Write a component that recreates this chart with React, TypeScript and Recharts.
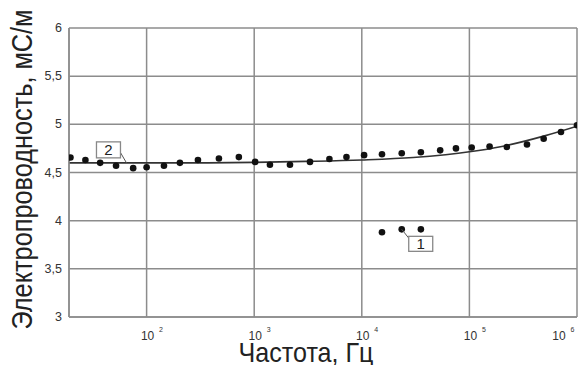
import {
  CartesianGrid,
  ComposedChart,
  Line,
  ReferenceDot,
  Scatter,
  XAxis,
  YAxis,
} from "recharts";

// measured points (curve 2)
const dotFreq = [
  19.6, 27, 37, 52, 75, 100, 145, 204, 300, 470, 720, 1020, 1400, 2150, 3300, 5000, 7200, 10500,
  15400, 23500, 35400, 53500, 75000, 105000, 154000, 223000, 343000, 490000, 710000, 1000000,
];
const dotValue = [
  4.655, 4.63, 4.6, 4.57, 4.545, 4.555, 4.57, 4.6, 4.63, 4.645, 4.66, 4.61, 4.58, 4.58, 4.61, 4.64,
  4.66, 4.68, 4.69, 4.7, 4.71, 4.73, 4.75, 4.76, 4.77, 4.765, 4.79, 4.85, 4.92, 4.99,
];

// measured points (curve 1)
const lowFreq = [15400, 23500, 35400];
const lowValue = [3.88, 3.91, 3.91];

// fitted curve
const fitFreq = [19, 50, 100, 300, 1000, 3000, 10000, 30000, 60000, 100000, 200000, 500000, 1000000];
const fitValue = [4.6, 4.6, 4.6, 4.6, 4.605, 4.615, 4.63, 4.655, 4.685, 4.715, 4.77, 4.88, 4.98];

const xTicks = [100, 1000, 10000, 100000, 1000000];
const yTicks = [3, 3.5, 4, 4.5, 5, 5.5, 6];

const dots = dotFreq.map((f, i) => ({ f, v: dotValue[i] }));
const lowDots = lowFreq.map((f, i) => ({ f, v: lowValue[i] }));
const fit = fitFreq.map((f, i) => ({ f, v: fitValue[i] }));

const FONT = "'Liberation Sans', Arial, sans-serif";
const GRID = "#8c8c8c";

const XTick = ({ x, y, payload }: any) => {
  const exp = Math.round(Math.log10(payload.value));
  return (
    <g fontFamily={FONT} fill="#333">
      <text x={x + 1} y={y + 15} textAnchor="middle" fontSize={12}>
        10
      </text>
      <text x={x + 12.5} y={y + 7} fontSize={7}>
        {exp}
      </text>
    </g>
  );
};

const YTick = ({ x, y, payload }: any) => (
  <text x={x} y={y + 4} textAnchor="end" fontSize={12.5} fontFamily={FONT} fill="#333">
    {String(payload.value).replace(".", ",")}
  </text>
);

const XTitle = ({ viewBox }: any) => (
  <text
    x={viewBox.x + viewBox.width / 2 - 17}
    y={viewBox.y + 45}
    textAnchor="middle"
    fontSize={28}
    textLength={135}
    lengthAdjust="spacingAndGlyphs"
    fontFamily={FONT}
    fill="#222"
  >
    Частота, Гц
  </text>
);

const YTitle = ({ viewBox }: any) => {
  const cx = 32;
  const cy = viewBox.y + viewBox.height / 2 - 3;
  return (
    <text
      x={cx}
      y={cy}
      transform={`rotate(-90 ${cx} ${cy})`}
      textAnchor="middle"
      fontSize={30}
      textLength={320}
      lengthAdjust="spacingAndGlyphs"
      fontFamily={FONT}
      fill="#222"
    >
      Электропроводность, мС/м
    </text>
  );
};

const Dot = ({ cx, cy }: any) => <circle cx={cx} cy={cy} r={3.3} fill="#111" />;

const Tag2 = ({ cx, cy }: any) => (
  <g fontFamily={FONT}>
    <line x1={cx} y1={cy} x2={cx - 7} y2={cy - 12} stroke="#555" strokeWidth={1} />
    <rect x={cx - 30} y={cy - 21} width={24} height={16} fill="#fff" stroke="#888" strokeWidth={1.3} />
    <text x={cx - 18} y={cy - 8} textAnchor="middle" fontSize={15} fill="#222">
      2
    </text>
  </g>
);

const Tag1 = ({ cx, cy }: any) => (
  <g fontFamily={FONT}>
    <line x1={cx} y1={cy} x2={cx + 8} y2={cy + 10} stroke="#555" strokeWidth={1} />
    <rect x={cx + 7} y={cy + 7} width={24} height={15} fill="#fff" stroke="#888" strokeWidth={1.3} />
    <text x={cx + 19} y={cy + 20} textAnchor="middle" fontSize={15} fill="#222">
      1
    </text>
  </g>
);

export default function App() {
  return (
    <div style={{ position: "absolute", left: 0, top: 0, width: 586, height: 365, background: "#fff" }}>
      <ComposedChart width={586} height={365} margin={{ top: 28, right: 9, bottom: 0, left: 0 }}>
        <CartesianGrid stroke={GRID} strokeWidth={1.5} />
        <XAxis
          dataKey="f"
          type="number"
          scale="log"
          domain={[19, 1000000]}
          ticks={xTicks}
          allowDataOverflow
          height={48}
          tickLine={false}
          axisLine={{ stroke: GRID, strokeWidth: 1.5 }}
          tick={<XTick />}
          label={<XTitle />}
        />
        <YAxis
          dataKey="v"
          type="number"
          domain={[3, 6]}
          ticks={yTicks}
          width={69}
          tickLine={false}
          tickSize={0}
          tickMargin={7}
          axisLine={{ stroke: GRID, strokeWidth: 1.5 }}
          tick={<YTick />}
          label={<YTitle />}
        />
        <Line
          data={fit}
          dataKey="v"
          type="monotone"
          stroke="#333"
          strokeWidth={1.6}
          dot={false}
          isAnimationActive={false}
        />
        <Scatter data={dots} dataKey="v" shape={<Dot />} isAnimationActive={false} />
        <Scatter data={lowDots} dataKey="v" shape={<Dot />} isAnimationActive={false} />
        <ReferenceDot x={65} y={4.6} r={0} shape={<Tag2 />} />
        <ReferenceDot x={23500} y={3.91} r={0} shape={<Tag1 />} />
      </ComposedChart>
    </div>
  );
}
